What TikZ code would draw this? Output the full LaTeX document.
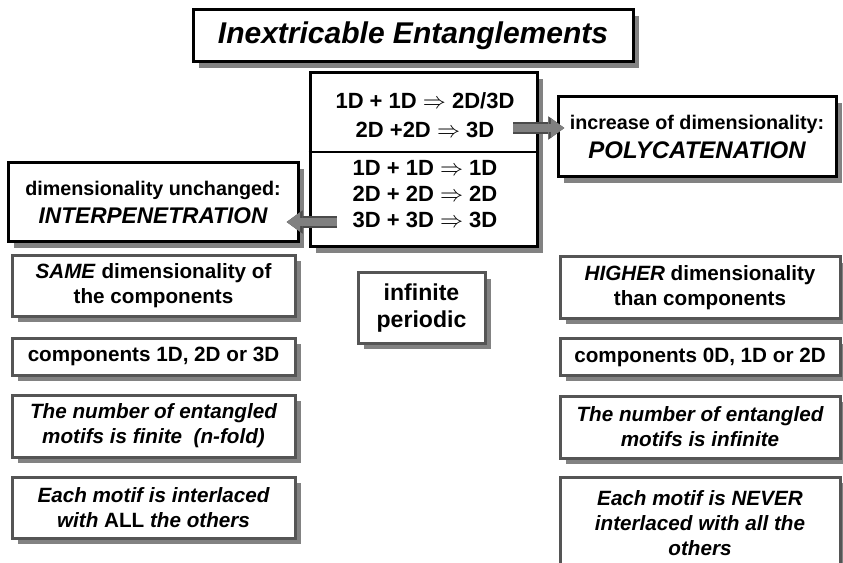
\documentclass[tikz,border=0pt]{standalone}
\usepackage{fontspec}
\setmainfont{Liberation Sans}
\usepackage{amsmath, amssymb}
\usetikzlibrary{arrows.meta, shadows}
\tikzset{every picture/.style={line width=0.75pt}}

\definecolor{shadowgray}{RGB}{130,130,130}
\definecolor{framegray}{RGB}{85,85,85}
\definecolor{arrowgray}{RGB}{128,128,128}
\definecolor{arrowedge}{RGB}{75,75,75}

\newcommand{\factfont}{\fontsize{15.5pt}{18.75pt}\selectfont\bfseries}

\tikzset{
  mainbox/.style={draw=black, line width=2.25pt, fill=white, inner sep=0pt, align=center,
    drop shadow={shadow xshift=4.2pt, shadow yshift=-4.2pt, opacity=1, fill=shadowgray}},
  factbox/.style={draw=framegray, line width=2.25pt, fill=white, inner sep=0pt, align=center,
    font=\factfont,
    drop shadow={shadow xshift=4.2pt, shadow yshift=-4.2pt, opacity=1, fill=shadowgray}},
  fatarrow/.style={preaction={draw=arrowedge, line width=8.5pt,
      -{Triangle[length=12pt, width=17.5pt, line width=0.3pt]}},
    draw=arrowgray, line width=6pt, shorten >=1.3pt,
    -{Triangle[length=10pt, width=14.5pt, line width=0.3pt]}},
}

\begin{document}
\begin{tikzpicture}[x=0.75pt,y=0.75pt,yscale=-1,xscale=1]
\useasboundingbox (0,0) rectangle (843,563);

%Shape: Rectangle [title]
\node[mainbox, minimum width=330pt, minimum height=39pt,
  font=\fontsize{22.5pt}{27pt}\selectfont\bfseries\itshape] (title) at (413,36) {Inextricable Entanglements};

%Shape: Rectangle [middle]
\node[mainbox, minimum width=170.25pt, minimum height=130.5pt] (mid) at (423.5,160) {};
\coordinate (divide) at (423.5,152);
%Straight Lines
\draw[line width=1.1pt] (mid.west |- divide) -- (mid.east |- divide);
% Text Node
\node[align=center, inner sep=0pt, font=\fontsize{16.5pt}{21.75pt}\selectfont\bfseries] (midup) at (425,115)
  {1D + 1D $\Rightarrow$ 2D/3D\\ 2D +2D $\Rightarrow$ 3D};
% Text Node
\node[align=center, inner sep=0pt, font=\fontsize{16.5pt}{19.5pt}\selectfont\bfseries] (middown) at (425,194.5)
  {1D + 1D $\Rightarrow$ 1D\\ 2D + 2D $\Rightarrow$ 2D\\ 3D + 3D $\Rightarrow$ 3D};

%Shape: Rectangle [interpenetration]
\node[mainbox, minimum width=217.5pt, minimum height=59.25pt,
  font=\fontsize{14.8pt}{21pt}\selectfont\bfseries] (interp) at (153,202.5)
  {dimensionality unchanged:\\ {\fontsize{17pt}{21pt}\selectfont\itshape INTERPENETRATION}};

%Shape: Rectangle [polycatenation]
\node[mainbox, minimum width=208.5pt, minimum height=60pt,
  font=\fontsize{14.8pt}{21.75pt}\selectfont\bfseries] (poly) at (697,137)
  {increase of dimensionality:\\ {\fontsize{18pt}{21.75pt}\selectfont\itshape POLYCATENATION}};

%Shape: Rectangle [left column]
\node[factbox, minimum width=212.25pt, minimum height=45.75pt] (sameL) at (153.5,286)
  {\textit{SAME} dimensionality of\\ the components};
\node[factbox, minimum width=212.25pt, minimum height=27.75pt] (compL) at (153.5,356.5)
  {components 1D, 2D or 3D};
\node[factbox, minimum width=212.25pt, minimum height=46.5pt] (numL) at (153.5,426)
  {\itshape The number of entangled\\ \itshape motifs is finite~~(n-fold)};
\node[factbox, minimum width=212.25pt, minimum height=45.75pt] (eachL) at (153.5,507.5)
  {\itshape Each motif is interlaced\\ \itshape with \textup{ALL} the others};

%Shape: Rectangle [centre]
\node[factbox, minimum width=95.25pt, minimum height=52.5pt,
  font=\fontsize{17.3pt}{20.25pt}\selectfont\bfseries] (infper) at (421.5,308)
  {infinite\\ periodic};

%Shape: Rectangle [right column]
\node[factbox, minimum width=210pt, minimum height=45.75pt] (higherR) at (700,287.5)
  {\textit{HIGHER} dimensionality\\ than components};
\node[factbox, minimum width=210pt, minimum height=27.75pt] (compR) at (700,357)
  {components 0D, 1D or 2D};
\node[factbox, minimum width=210pt, minimum height=46.5pt] (numR) at (700,427)
  {\itshape The number of entangled\\ \itshape motifs is infinite};
\node[factbox, minimum width=210pt, minimum height=69.75pt] (eachR) at (700,523.5)
  {\itshape Each motif is NEVER\\ \itshape interlaced with all the\\ \itshape others};

%Straight Lines [arrows]
\coordinate (polytail) at (513,128);
\coordinate (polytip) at (566,128);
\coordinate (interptail) at (337,222);
\coordinate (interptip) at (285,222);
\draw[fatarrow] (polytail) -- (polytip);
\draw[fatarrow] (interptail) -- (interptip);

\end{tikzpicture}
\end{document}
